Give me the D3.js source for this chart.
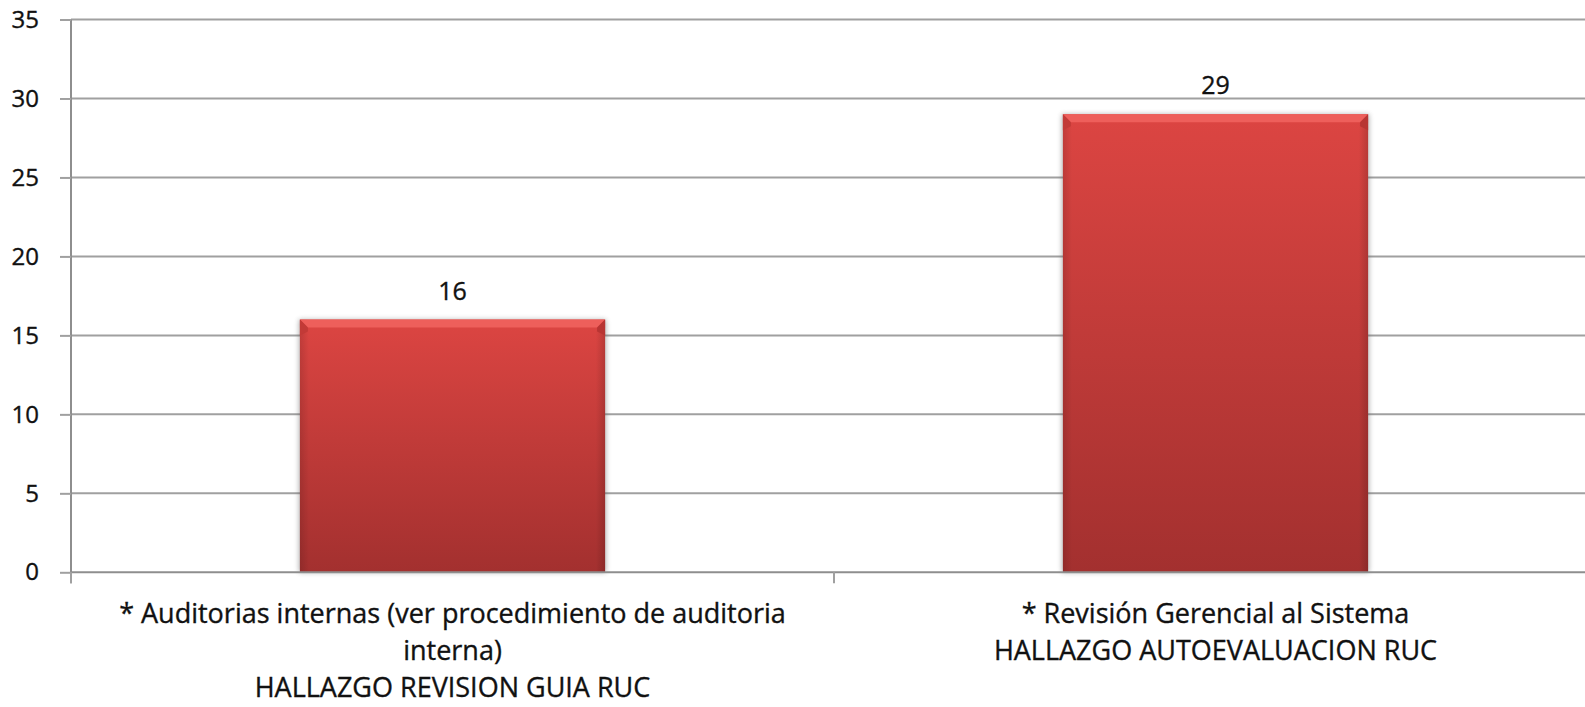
<!DOCTYPE html>
<html>
<head>
<meta charset="utf-8">
<script src="https://cdn.jsdelivr.net/npm/d3@7"></script>
<style>
  html, body { margin: 0; padding: 0; background: #fff; }
  svg { display: block; }
</style>
</head>
<body>
<div class="chart"></div>
<script>
// Data
const categorias = [
    ["* Auditorias internas (ver procedimiento de auditoria", "interna)", "HALLAZGO REVISION GUIA RUC"],
    ["* Revisión Gerencial al Sistema", "HALLAZGO AUTOEVALUACION RUC"]
];
const valores = [16, 29];
const ticksY = [0, 5, 10, 15, 20, 25, 30, 35];

// Mesures
const size = { width: 1585, height: 707 };
const margin = { top: 19.5, left: 71, bottom: 134.7 };
const plotRight = 1597;  // the original chart runs past the right edge

const svg = d3.select(".chart")
    .append("svg")
    .attr("width", size.width)
    .attr("height", size.height);

const defs = svg.append("defs");
const grad = defs.append("linearGradient")
    .attr("id", "barGrad")
    .attr("x1", 0).attr("y1", 0).attr("x2", 0).attr("y2", 1);
grad.append("stop").attr("offset", "0%").attr("stop-color", "#dc4542");
grad.append("stop").attr("offset", "100%").attr("stop-color", "#a3302f");

const sideGrad = defs.append("linearGradient")
    .attr("id", "sideGrad")
    .attr("x1", 0).attr("y1", 0).attr("x2", 1).attr("y2", 0);
sideGrad.append("stop").attr("offset", "0%").attr("stop-color", "#000").attr("stop-opacity", 0.12);
sideGrad.append("stop").attr("offset", "3%").attr("stop-color", "#000").attr("stop-opacity", 0);
sideGrad.append("stop").attr("offset", "97%").attr("stop-color", "#000").attr("stop-opacity", 0);
sideGrad.append("stop").attr("offset", "100%").attr("stop-color", "#000").attr("stop-opacity", 0.15);

defs.append("filter").attr("id", "sombra")
    .attr("x", "-10%").attr("y", "-10%").attr("width", "120%").attr("height", "120%")
    .append("feGaussianBlur").attr("stdDeviation", 2.5);

// Scales
const x = d3.scaleBand()
    .domain(d3.range(categorias.length))
    .range([margin.left, plotRight])
    .paddingInner(0.6)
    .paddingOuter(0.3);

const y = d3.scaleLinear()
    .domain([0, 35])
    .range([size.height - margin.bottom, margin.top]);

const step = x.step();
const font = "'Open Sans', 'DejaVu Sans', sans-serif";
const tinta = "#111";

// Gridlines
svg.append("g")
    .selectAll("line")
    .data(ticksY.filter(d => d > 0))
    .join("line")
    .attr("x1", margin.left)
    .attr("x2", size.width)
    .attr("y1", d => y(d))
    .attr("y2", d => y(d))
    .attr("stroke", "#a0a0a0")
    .attr("stroke-width", 2);

// Y axis
const yAxis = svg.append("g")
    .attr("transform", `translate(${margin.left},0)`)
    .call(d3.axisLeft(y).tickValues(ticksY).tickSize(11).tickPadding(21));
yAxis.select(".domain").attr("stroke", "#8e8e8e").attr("stroke-width", 2)
    .attr("d", `M0,${y(35)}V${y(0) + 11}`);
yAxis.selectAll(".tick line").attr("stroke", "#a0a0a0").attr("stroke-width", 2);
yAxis.selectAll(".tick text")
    .attr("font-family", font)
    .attr("font-size", 24)
    .attr("fill", tinta)
    .attr("stroke", tinta)
    .attr("stroke-width", 0.35);

// Bars
const barras = svg.append("g")
    .selectAll("g")
    .data(valores)
    .join("g");

barras.append("rect")
    .attr("x", (d, i) => x(i) - 1)
    .attr("y", d => y(d))
    .attr("width", x.bandwidth() + 2)
    .attr("height", d => y(0) - y(d))
    .attr("fill", "#555")
    .attr("opacity", 0.45)
    .attr("filter", "url(#sombra)");

barras.append("rect")
    .attr("x", (d, i) => x(i))
    .attr("y", d => y(d))
    .attr("width", x.bandwidth())
    .attr("height", d => y(0) - y(d))
    .attr("fill", "url(#barGrad)");

barras.append("rect")
    .attr("x", (d, i) => x(i))
    .attr("y", d => y(d))
    .attr("width", x.bandwidth())
    .attr("height", d => y(0) - y(d))
    .attr("fill", "url(#sideGrad)");

// bevel on top
const b = 8;
barras.append("path")
    .attr("d", (d, i) => {
        const x0 = x(i), x1 = x(i) + x.bandwidth(), t = y(d);
        return `M${x0},${t}L${x1},${t}L${x1 - b},${t + b}L${x0 + b},${t + b}Z`;
    })
    .attr("fill", "#ee5f5b");
barras.append("path")
    .attr("d", (d, i) => {
        const x0 = x(i), t = y(d);
        return `M${x0},${t}L${x0 + b},${t + b}L${x0 + b},${t + b + 4}L${x0},${t + b + 8}Z`;
    })
    .attr("fill", "#c23a37");
barras.append("path")
    .attr("d", (d, i) => {
        const x1 = x(i) + x.bandwidth(), t = y(d);
        return `M${x1},${t}L${x1 - b},${t + b}L${x1 - b},${t + b + 4}L${x1},${t + b + 8}Z`;
    })
    .attr("fill", "#b83533");

// Value labels
barras.append("text")
    .attr("x", (d, i) => x(i) + x.bandwidth() / 2)
    .attr("y", d => y(d) - 20)
    .attr("text-anchor", "middle")
    .attr("font-family", font)
    .attr("font-size", 25)
    .attr("fill", tinta)
    .attr("stroke", tinta)
    .attr("stroke-width", 0.35)
    .text(d => d);

// X axis
svg.append("line")
    .attr("x1", margin.left)
    .attr("x2", size.width)
    .attr("y1", y(0))
    .attr("y2", y(0))
    .attr("stroke", "#8e8e8e")
    .attr("stroke-width", 2);

svg.append("g")
    .selectAll("line")
    .data(d3.range(categorias.length + 1))
    .join("line")
    .attr("x1", d => margin.left + d * step)
    .attr("x2", d => margin.left + d * step)
    .attr("y1", y(0))
    .attr("y2", y(0) + 11)
    .attr("stroke", "#a0a0a0")
    .attr("stroke-width", 2);

// Category labels
svg.append("g")
    .selectAll("text")
    .data(categorias)
    .join("text")
    .attr("text-anchor", "middle")
    .attr("font-family", font)
    .attr("font-size", 27)
    .attr("fill", tinta)
    .attr("stroke", tinta)
    .attr("stroke-width", 0.35)
    .each(function (lineas, i) {
        d3.select(this).selectAll("tspan")
            .data(lineas)
            .join("tspan")
            .attr("x", x(i) + x.bandwidth() / 2)
            .attr("y", (l, j) => 623 + j * 37)
            .text(l => l);
    });
</script>
</body>
</html>
